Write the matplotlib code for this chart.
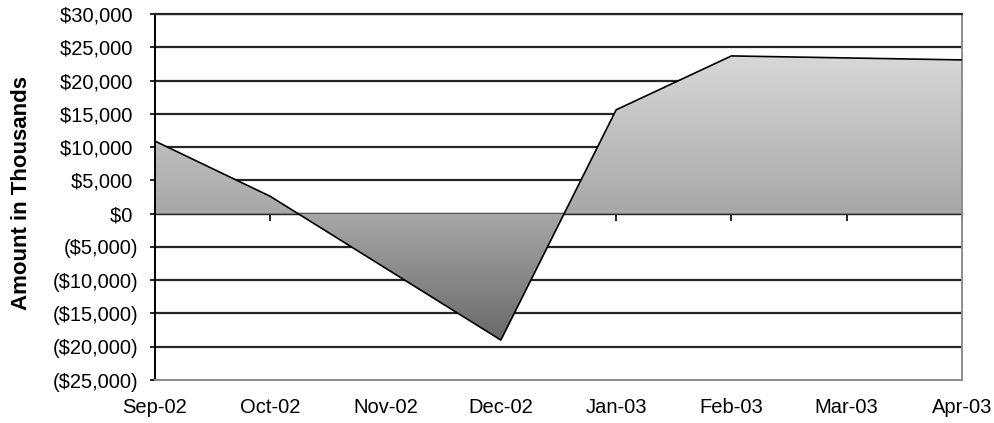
import numpy as np
import matplotlib
matplotlib.use("Agg")
import matplotlib.pyplot as plt
from matplotlib.colors import LinearSegmentedColormap
from matplotlib.ticker import FuncFormatter

months = ["Sep-02", "Oct-02", "Nov-02", "Dec-02", "Jan-03", "Feb-03", "Mar-03", "Apr-03"]
amounts = [10900, 2600, -8200, -19000, 15600, 23700, 23400, 23100]

y_min, y_max, y_step = -25000, 30000, 5000

plt.rcParams['font.family'] = ['Liberation Sans', 'DejaVu Sans']


def dollar_fmt(v, pos):
    # accounting style: negatives in brackets, positives padded for the bracket
    v = int(round(v))
    if v < 0:
        return "(${:,})".format(-v)
    return "${:,} ".format(v)


fig = plt.figure(figsize=(9.95, 4.23), dpi=100)
ax = fig.add_axes([155 / 995, 43 / 423, 807 / 995, 366 / 423])

x = np.arange(len(months))
y = np.array(amounts, dtype=float)

# horizontal grid, drawn under the area
for g in np.arange(y_min + y_step, y_max + 1, y_step):
    ax.axhline(g, color="#262626", lw=1.6, zorder=1)

# area with a vertical grey gradient clipped to the series polygon
poly = ax.fill_between(x, y, 0, color="none", lw=0, zorder=2)
path = poly.get_paths()[0]
cmap = LinearSegmentedColormap.from_list(
    "grey_grad", [(0.0, "#6a6a6a"), (0.45, "#a8a8a8"), (1.0, "#d8d8d8")])
grad = np.linspace(0, 1, 256).reshape(-1, 1)
img = ax.imshow(grad, cmap=cmap, aspect="auto", origin="lower",
                extent=[x[0], x[-1], y.min(), y.max()], zorder=2,
                interpolation="bicubic")
img.set_clip_path(path, ax.transData)

ax.plot(x, y, color="black", lw=1.2, zorder=4)

ax.set_xlim(x[0], x[-1])
ax.set_ylim(y_min, y_max)

# category axis crossing at zero
zero_pos = (0 - y_min) / (y_max - y_min)
sec = ax.secondary_xaxis(zero_pos)
sec.set_xticks(x)
sec.set_xticklabels([])
sec.tick_params(direction="out", length=5, width=1.2, color="black")
sec.spines["bottom"].set_color("black")
sec.spines["bottom"].set_linewidth(1.6)
sec.spines["bottom"].set_zorder(5)

ax.set_xticks(x)
ax.set_xticklabels(months, fontsize=14.5)
ax.tick_params(axis="x", length=0, pad=13)

ax.set_yticks(np.arange(y_min, y_max + 1, y_step))
ax.yaxis.set_major_formatter(FuncFormatter(dollar_fmt))
ax.tick_params(axis="y", direction="out", length=3.6, width=1.2, labelsize=14.5, pad=8.6)

ax.spines["left"].set_color("black")
ax.spines["left"].set_linewidth(1.4)
ax.spines["top"].set_color("#262626")
ax.spines["top"].set_linewidth(1.6)
ax.spines["right"].set_color("#8c8c8c")
ax.spines["right"].set_linewidth(1.4)
ax.spines["bottom"].set_color("#8c8c8c")
ax.spines["bottom"].set_linewidth(1.4)

ax.set_ylabel("Amount in Thousands", fontsize=16, fontweight="bold")
ax.yaxis.set_label_coords(-0.152, 0.51)

fig.savefig("out.png", dpi=100, facecolor="white")
